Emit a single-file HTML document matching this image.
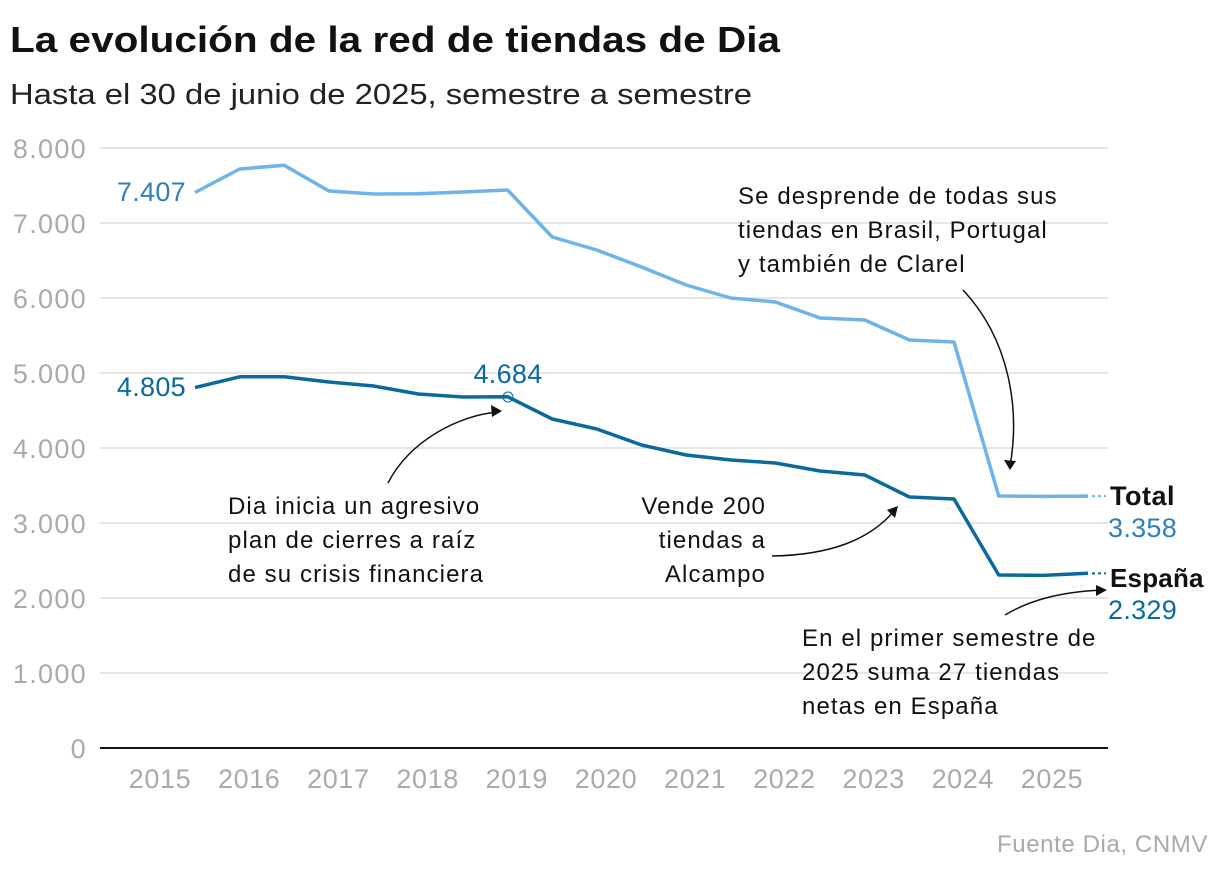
<!DOCTYPE html>
<html><head><meta charset="utf-8">
<style>
body{margin:0;background:#fff;width:1220px;height:874px;overflow:hidden;font-family:"Liberation Sans",sans-serif;}
svg text{font-family:"Liberation Sans",sans-serif;}
</style></head>
<body>
<svg id="chart" width="1220" height="874" xmlns="http://www.w3.org/2000/svg">
<text x="10" y="52" font-size="36" font-weight="bold" fill="#111" textLength="770" lengthAdjust="spacingAndGlyphs">La evolución de la red de tiendas de Dia</text>
<text x="10" y="104" font-size="29" fill="#222" textLength="742" lengthAdjust="spacingAndGlyphs">Hasta el 30 de junio de 2025, semestre a semestre</text>
<g id="grid"></g><g id="series"></g>
<g font-size="24" letter-spacing="1.1" fill="#111">
<text x="186" y="201" font-size="27" letter-spacing="0.3" fill="#2f7fbf" text-anchor="end">7.407</text>
<text x="186" y="396" font-size="27" letter-spacing="0.3" fill="#0a6a9e" text-anchor="end">4.805</text>
<text x="508" y="383" font-size="27" letter-spacing="0.3" fill="#0a6a9e" text-anchor="middle">4.684</text>
<circle cx="508" cy="397" r="5" fill="none" stroke="#0a6a9e" stroke-width="1"/>
<text x="1110" y="505" font-size="27" letter-spacing="0.5" font-weight="bold">Total</text>
<text x="1108" y="537" font-size="27" letter-spacing="0.3" fill="#2f7fbf">3.358</text>
<text x="1110" y="587" font-size="26" letter-spacing="0.2" font-weight="bold">España</text>
<text x="1108" y="619" font-size="27" letter-spacing="0.3" fill="#0a6a9e">2.329</text>
<text x="738" y="204">Se desprende de todas sus</text>
<text x="738" y="238">tiendas en Brasil, Portugal</text>
<text x="738" y="272">y también de Clarel</text>
<text x="228" y="514">Dia inicia un agresivo</text>
<text x="228" y="548">plan de cierres a raíz</text>
<text x="228" y="582">de su crisis financiera</text>
<text x="766" y="514" text-anchor="end">Vende 200</text>
<text x="766" y="548" text-anchor="end">tiendas a</text>
<text x="766" y="582" text-anchor="end">Alcampo</text>
<text x="802" y="646">En el primer semestre de</text>
<text x="802" y="680">2025 suma 27 tiendas</text>
<text x="802" y="714">netas en España</text>
<g fill="none" stroke="#111" stroke-width="1.5">
<path d="M963 290 C1010 340 1020 410 1010 466"/>
<path d="M388 483 C410 440 460 415 498 412"/>
<path d="M772 556 C830 555 870 540 895 510"/>
<path d="M1005 615 C1030 600 1060 592 1102 590"/>
</g>
<g fill="#111">
<path d="M1010 470 l-6 -10 l12 1 z"/>
<path d="M502 411 l-11 -6 l1 12 z"/>
<path d="M898 506 l-11 4 l8 8 z"/>
<path d="M1107 590 l-11 -5 l0 11 z"/>
</g>
</g>
<text x="1208" y="852" font-size="24" letter-spacing="0.6" fill="#aaa" text-anchor="end">Fuente Dia, CNMV</text>
</svg>
<script>
const years = ["2015","2016","2017","2018","2019","2020","2021","2022","2023","2024","2025"];
const yTicks = [0,1000,2000,3000,4000,5000,6000,7000,8000];
const yTickLabels = ["0","1.000","2.000","3.000","4.000","5.000","6.000","7.000","8.000"];
const totalValues = [7407,7720,7770,7427,7387,7390,7413,7440,6813,6640,6413,6173,6000,5947,5733,5707,5440,5413,3360,3355,3358];
const espanaValues = [4805,4950,4950,4880,4827,4720,4680,4684,4387,4253,4040,3907,3840,3800,3693,3640,3347,3320,2307,2302,2329];
const NS="http://www.w3.org/2000/svg";
const y = v => 748 - v*0.075;
const xi = i => 195 + i*44.65;
const xy = i => 160 + i*89.2;
const grid=document.getElementById('grid'), ser=document.getElementById('series');
function mk(t,a,p){const e=document.createElementNS(NS,t);for(const k in a)e.setAttribute(k,a[k]);p.appendChild(e);return e;}
yTicks.forEach((v,i)=>{
  const l=mk('line',{x1:100,x2:1108,y1:y(v),y2:y(v),stroke:v===0?'#111':'#ddd','stroke-width':v===0?2:1.5},grid);
  
  
  const t=mk('text',{x:87,y:y(v)+10,'font-size':27,'letter-spacing':1.3,fill:'#aaa','text-anchor':'end'},grid);
  t.textContent=yTickLabels[i];
  
  
});
years.forEach((yr,i)=>{
  const t=mk('text',{x:xy(i),y:788,'font-size':27,'letter-spacing':0.6,fill:'#aaa','text-anchor':'middle'},grid);
  t.textContent=yr;
  
  
});
function line(vals,color,name){
  const d=vals.map((v,i)=>(i?'L':'M')+xi(i).toFixed(1)+' '+y(v).toFixed(1)).join(' ');
  const p=mk('path',{d:d,fill:'none',stroke:color,'stroke-width':3.5,'stroke-linejoin':'round'},ser);
  
  
  const last=vals.length-1;
  const dl=mk('line',{x1:xi(last)+4,x2:1106,y1:y(vals[last]),y2:y(vals[last]),stroke:color,'stroke-width':2,'stroke-dasharray':'3 3'},ser);
  
  
}
line(totalValues,'#6cb4ea','total-line');
line(espanaValues,'#0a6a9e','espana-line');
</script>
</body></html>
